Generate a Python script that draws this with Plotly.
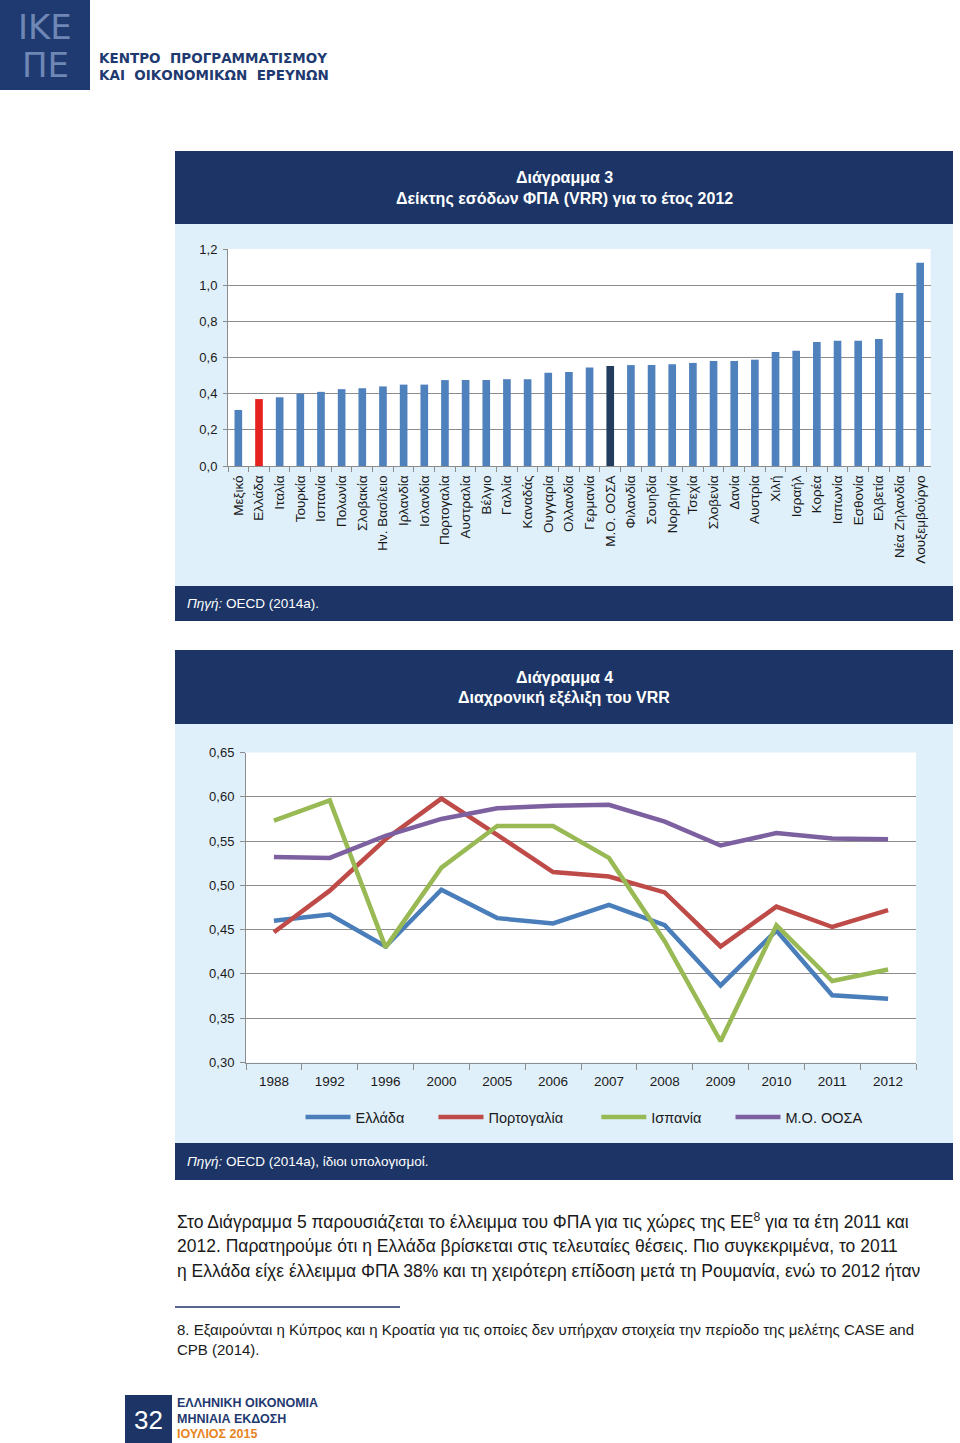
import plotly.graph_objects as go

W, H = 960, 1443
def px(x): return x / W
def py(y): return 1 - y / H

NAVY = "#1c3566"
LIGHT = "#e0f0fb"
FONT = "Liberation Sans, Arial, sans-serif"

# ---- Data: Chart 3 ----
countries = ["Μεξικό", "Ελλάδα", "Ιταλία", "Τουρκία", "Ισπανία", "Πολωνία", "Σλοβακία",
             "Ην. Βασίλειο", "Ιρλανδία", "Ισλανδία", "Πορτογαλία", "Αυστραλία", "Βέλγιο",
             "Γαλλία", "Καναδάς", "Ουγγαρία", "Ολλανδία", "Γερμανία", "Μ.Ο. ΟΟΣΑ",
             "Φιλανδία", "Σουηδία", "Νορβηγία", "Τσεχία", "Σλοβενία", "Δανία", "Αυστρία",
             "Χιλή", "Ισραήλ", "Κορέα", "Ιαπωνία", "Εσθονία", "Ελβετία", "Νέα Ζηλανδία",
             "Λουξεμβούργο"]
vrr_2012 = [0.31, 0.37, 0.38, 0.40, 0.41, 0.425, 0.43, 0.44, 0.45, 0.45, 0.475, 0.475, 0.475,
            0.48, 0.48, 0.515, 0.52, 0.545, 0.553, 0.558, 0.558, 0.563, 0.57, 0.581, 0.581,
            0.588, 0.63, 0.638, 0.686, 0.692, 0.692, 0.702, 0.957, 1.124]
bar_ticks = [0.0, 0.2, 0.4, 0.6, 0.8, 1.0, 1.2]

# ---- Data: Chart 4 ----
years = ["1988", "1992", "1996", "2000", "2005", "2006", "2007", "2008", "2009", "2010", "2011", "2012"]
greece = [0.460, 0.467, 0.431, 0.495, 0.463, 0.457, 0.478, 0.455, 0.387, 0.449, 0.376, 0.372]
portugal = [0.447, 0.494, 0.552, 0.598, 0.557, 0.515, 0.510, 0.492, 0.431, 0.476, 0.453, 0.472]
spain = [0.573, 0.596, 0.430, 0.520, 0.567, 0.567, 0.531, 0.437, 0.324, 0.455, 0.392, 0.405]
oecd = [0.532, 0.531, 0.556, 0.575, 0.587, 0.590, 0.591, 0.572, 0.545, 0.559, 0.553, 0.552]
line_ticks = [0.30, 0.35, 0.40, 0.45, 0.50, 0.55, 0.60, 0.65]
series_names = ["Ελλάδα", "Πορτογαλία", "Ισπανία", "Μ.Ο. ΟΟΣΑ"]

bar_colors = []
for c in countries:
    if c == "Ελλάδα":
        bar_colors.append("#e5221d")
    elif c == "Μ.Ο. ΟΟΣΑ":
        bar_colors.append("#233d5f")
    else:
        bar_colors.append("#4f81bd")

fig = go.Figure()
fig.add_trace(go.Bar(x=countries, y=vrr_2012, marker=dict(color=bar_colors, line=dict(width=0)),
                     showlegend=False, xaxis="x", yaxis="y"))

line_colors = ["#4a7ebb", "#be4b48", "#98b954", "#7d60a0"]
pads = [6, 7, 6, 0]  # extra legend spacing (non-breaking spaces)
for name, vals, col, pad in zip(series_names, [greece, portugal, spain, oecd], line_colors, pads):
    fig.add_trace(go.Scatter(x=years, y=vals, name=name + "\u00a0" * pad, mode="lines",
                             line=dict(color=col, width=4.5), xaxis="x2", yaxis="y2"))

shapes = []
def rect(x0, y0, x1, y1, color):
    shapes.append(dict(type="rect", xref="paper", yref="paper", x0=px(x0), x1=px(x1),
                       y0=py(y1), y1=py(y0), fillcolor=color, line=dict(width=0), layer="below"))

# logo
rect(0, 0, 90, 90, "#1f3a70")
# chart 3 frame
rect(175, 151, 953, 224, NAVY)
rect(175, 224, 953, 586, LIGHT)
rect(175, 586, 953, 621, NAVY)
rect(228, 249, 930.5, 466, "white")
# chart 4 frame
rect(175, 650, 953, 724, NAVY)
rect(175, 724, 953, 1143, LIGHT)
rect(175, 1143, 953, 1180, NAVY)
rect(246, 752.5, 916, 1062.5, "white")
# footer
rect(125, 1395, 172, 1443, NAVY)
shapes.append(dict(type="line", xref="paper", yref="paper", x0=px(175), x1=px(400),
                   y0=py(1307), y1=py(1307), line=dict(color="#1c3566", width=1.5)))

ann = []
def text(x, y, s, size, color="#1a1a1a", xanchor="left", family=FONT, bold=False):
    if bold:
        s = "<b>" + s + "</b>"
    ann.append(dict(x=px(x), y=py(y), xref="paper", yref="paper", text=s, showarrow=False,
                    xanchor=xanchor, yanchor="middle", font=dict(size=size, color=color, family=family)))

# logo text
text(45, 27, "ΙΚΕ", 34, color="#6f87b5", xanchor="center", family="DejaVu Sans, sans-serif")
text(45, 65, "ΠΕ", 34, color="#6f87b5", xanchor="center", family="DejaVu Sans, sans-serif")
text(97, 58, "ΚΕΝΤΡΟ  ΠΡΟΓΡΑΜΜΑΤΙΣΜΟΥ", 13.5, color="#1f3a70", family="DejaVu Sans, sans-serif", bold=True)
text(97, 75, "ΚΑΙ  ΟΙΚΟΝΟΜΙΚΩΝ  ΕΡΕΥΝΩΝ", 13.5, color="#1f3a70", family="DejaVu Sans, sans-serif", bold=True)

# chart titles
text(564, 178, "Διάγραμμα 3", 16, color="white", xanchor="center", bold=True)
text(564, 199, "Δείκτης εσόδων ΦΠΑ (VRR) για το έτος 2012", 16, color="white", xanchor="center", bold=True)
text(185, 603, "<i>Πηγή:</i> OECD (2014a).", 13.5, color="white")
text(564, 677, "Διάγραμμα 4", 16, color="white", xanchor="center", bold=True)
text(564, 698, "Διαχρονική εξέλιξη του VRR", 16, color="white", xanchor="center", bold=True)
text(185, 1161, "<i>Πηγή:</i> OECD (2014a), ίδιοι υπολογισμοί.", 13.5, color="white")

# paragraph
text(175, 1221, "Στο Διάγραμμα 5 παρουσιάζεται το έλλειμμα του ΦΠΑ για τις χώρες της ΕΕ<sup>8</sup> για τα έτη 2011 και", 17.5)
text(175, 1246, "2012. Παρατηρούμε ότι η Ελλάδα βρίσκεται στις τελευταίες θέσεις. Πιο συγκεκριμένα, το 2011", 17.5)
text(175, 1271, "η Ελλάδα είχε έλλειμμα ΦΠΑ 38% και τη χειρότερη επίδοση μετά τη Ρουμανία, ενώ το 2012 ήταν", 17.5)
text(175, 1329, "8. Εξαιρούνται η Κύπρος και η Κροατία για τις οποίες δεν υπήρχαν στοιχεία την περίοδο της μελέτης CASE and", 15)
text(175, 1349, "CPB (2014).", 15)

# footer
text(148.5, 1420, "32", 26, color="white", xanchor="center")
text(175, 1403, "ΕΛΛΗΝΙΚΗ ΟΙΚΟΝΟΜΙΑ", 12.5, color="#1f3a70", bold=True)
text(175, 1419, "ΜΗΝΙΑΙΑ ΕΚΔΟΣΗ", 12.5, color="#1f3a70", bold=True)
text(175, 1434, "ΙΟΥΛΙΟΣ 2015", 12.5, color="#e8841f", bold=True)

GRID = "#8c8c8c"
fig.update_layout(
    template="none",
    width=W, height=H, autosize=False,
    margin=dict(l=0, r=0, t=0, b=0, pad=0),
    paper_bgcolor="white", plot_bgcolor="rgba(0,0,0,0)",
    separators=",.",
    font=dict(family=FONT, size=13, color="#1a1a1a"),
    bargap=0.63,
    shapes=shapes, annotations=ann,
    xaxis=dict(domain=[px(228), px(930.5)], anchor="y", type="category", automargin=False,
               range=[-0.5, len(countries) - 0.5],
               tickangle=-90, tickfont=dict(size=13.5), ticks="outside", ticklen=5,
               tickson="boundaries", tickcolor=GRID, showline=True, linecolor=GRID,
               showgrid=False, ticklabelstandoff=3),
    yaxis=dict(domain=[py(466), py(249)], anchor="x", range=[0, 1.2], tickvals=bar_ticks,
               automargin=False,
               tickformat=".1f", ticks="outside", ticklen=4, tickcolor=GRID,
               showline=True, linecolor=GRID, gridcolor=GRID, gridwidth=1,
               zeroline=False, tickfont=dict(size=13), ticklabelstandoff=3),
    xaxis2=dict(domain=[px(246), px(916)], anchor="y2", type="category", automargin=False,
                range=[-0.5, len(years) - 0.5],
                ticks="outside", ticklen=6, tickson="boundaries", tickcolor=GRID,
                showline=True, linecolor=GRID, showgrid=False,
                tickfont=dict(size=13.5), ticklabelstandoff=6),
    yaxis2=dict(domain=[py(1062.5), py(752.5)], anchor="x2", range=[0.30, 0.65],
                automargin=False,
                tickvals=line_ticks, tickformat=".2f", ticks="outside", ticklen=5,
                tickcolor=GRID, showline=True, linecolor=GRID, gridcolor=GRID,
                zeroline=False, tickfont=dict(size=13), ticklabelstandoff=3),
    legend=dict(orientation="h", x=px(584), xanchor="center", y=py(1117), yanchor="middle",
                bgcolor="rgba(0,0,0,0)", font=dict(size=14.5), itemwidth=45,
                traceorder="normal"),
)

fig.write_html("out.html", config={"displayModeBar": False},
               post_script="document.body.style.margin='0';document.body.style.overflow='hidden';")
